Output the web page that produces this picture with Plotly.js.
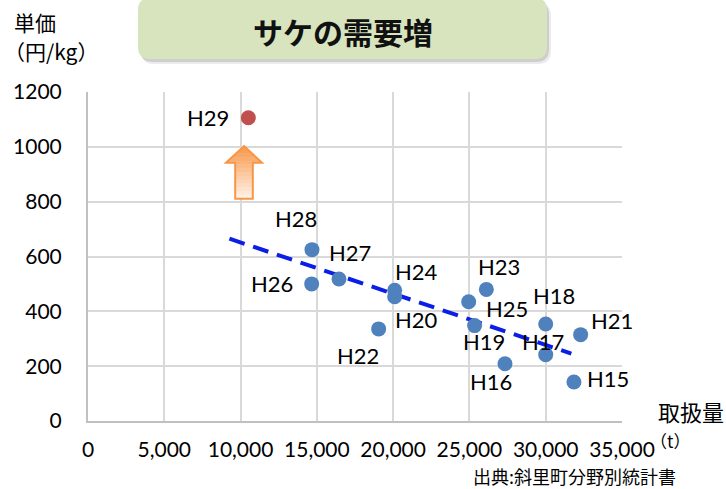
<!DOCTYPE html>
<html>
<head>
<meta charset="utf-8">
<script src="https://cdn.plot.ly/plotly-3.0.1.min.js"></script>
<style>html,body{margin:0;padding:0;background:#fff;}#chart{width:726px;height:489px;}</style>
</head>
<body>
<div id="chart"></div>
<script>
// ---- data ----
const years   = ['H15','H16','H17','H18','H19','H20','H21','H22','H23','H24','H25','H26','H27','H28'];
const volume  = [31850, 27330, 30000, 30000, 25340, 20100, 32290, 19050, 26110, 20100, 24950, 14660, 16450, 14680];
const price   = [142, 209, 242, 354, 348, 453, 315, 336, 480, 477, 435, 500, 518, 625];
const latestYear   = ['H29'];
const latestVolume = [10510];
const latestPrice  = [1106];
const trendX = [9270, 31680];
const trendY = [665, 246];
const xTicks = [0, 5000, 10000, 15000, 20000, 25000, 30000, 35000];
const yTicks = [0, 200, 400, 600, 800, 1000, 1200];

// ---- label offsets (styling, px) ----
const labelShift = {
  H15:[34,4], H16:[-14,-18], H17:[-3,13], H18:[8,28], H19:[9,-16], H20:[22,-23],
  H21:[31,14], H22:[-21,-27], H23:[13,23], H24:[22,19], H25:[38,-7], H26:[-40,0],
  H27:[11,26], H28:[-16,31], H29:[-40,0]
};

const W=726, H=489, L=88, R=104, T=92, B=68;
const PW=W-L-R, PH=H-T-B;
const px = p => (p-L)/PW;
const py = p => (H-B-p)/PH;

const LAB = 'Lato, "Open Sans", "Noto Sans CJK JP", sans-serif';
const JP  = '"Noto Sans CJK JP", "Noto Sans", sans-serif';

function rrect(x0,y0,x1,y1,r){
  const P=(x,y)=>px(x).toFixed(5)+','+py(y).toFixed(5);
  return 'M'+P(x0+r,y0)+' L'+P(x1-r,y0)+' Q'+P(x1,y0)+' '+P(x1,y0+r)+
         ' L'+P(x1,y1-r)+' Q'+P(x1,y1)+' '+P(x1-r,y1)+
         ' L'+P(x0+r,y1)+' Q'+P(x0,y1)+' '+P(x0,y1-r)+
         ' L'+P(x0,y0+r)+' Q'+P(x0,y0)+' '+P(x0+r,y0)+' Z';
}
function poly(pts){
  return 'M'+pts.map(p=>px(p[0]).toFixed(5)+','+py(p[1]).toFixed(5)).join(' L')+' Z';
}

const shapes = [];
// title box shadow + box
shapes.push({type:'path', xref:'paper', yref:'paper', path:rrect(141,3,551,64,13), fillcolor:'rgba(0,0,0,0.08)', line:{width:0}, layer:'above'});
shapes.push({type:'path', xref:'paper', yref:'paper', path:rrect(140,2,549,62,13), fillcolor:'rgba(0,0,0,0.12)', line:{width:0}, layer:'above'});
shapes.push({type:'path', xref:'paper', yref:'paper', path:rrect(138,-2,547,59,12), fillcolor:'#D7E4BD', line:{width:0}, layer:'above'});

// arrow with vertical gradient (decoration)
const ax=244, tipY=146, headY=162.7, baseY=198.7, headHW=18, shaftHW=8.8;
function halfW(y){ return y<headY ? headHW*(y-tipY)/(headY-tipY) : shaftHW; }
const N=14;
const c0=[248,150,70], c1=[255,243,233];
for(let i=0;i<N;i++){
  const ya=tipY+(baseY-tipY)*i/N, yb=tipY+(baseY-tipY)*(i+1)/N;
  const t=(i+0.5)/N;
  const col='rgb('+c0.map((v,k)=>Math.round(v+(c1[k]-v)*t)).join(',')+')';
  let pts=[];
  if(ya<headY && yb>headY){
    pts=[[ax-halfW(ya),ya],[ax+halfW(ya),ya],[ax+headHW,headY],[ax+shaftHW,headY],[ax+shaftHW,yb],[ax-shaftHW,yb],[ax-shaftHW,headY],[ax-headHW,headY]];
  } else {
    const wa=halfW(ya), wb=(yb<=headY)?halfW(yb):shaftHW;
    pts=[[ax-wa,ya],[ax+wa,ya],[ax+wb,yb],[ax-wb,yb]];
  }
  shapes.push({type:'path', xref:'paper', yref:'paper', path:poly(pts), fillcolor:col, line:{color:col,width:0.6}, layer:'above'});
}
shapes.push({type:'path', xref:'paper', yref:'paper',
  path:poly([[ax,tipY],[ax+headHW,headY],[ax+shaftHW,headY],[ax+shaftHW,baseY],[ax-shaftHW,baseY],[ax-shaftHW,headY],[ax-headHW,headY]]),
  fillcolor:'rgba(0,0,0,0)', line:{color:'#F79646',width:2}, layer:'above'});

const annotations = [];
years.forEach((yr,i)=>{
  annotations.push({x:volume[i], y:price[i], xref:'x', yref:'y', text:yr, showarrow:false,
    xshift:labelShift[yr][0], yshift:labelShift[yr][1], font:{family:LAB,size:22,color:'#000'}});
});
latestYear.forEach((yr,i)=>{
  annotations.push({x:latestVolume[i], y:latestPrice[i], xref:'x', yref:'y', text:yr, showarrow:false,
    xshift:labelShift[yr][0], yshift:labelShift[yr][1], font:{family:LAB,size:22,color:'#000'}});
});
// title
annotations.push({xref:'paper', yref:'paper', x:px(342.5), y:py(31), text:'<b>サケの需要増</b>', showarrow:false,
  xanchor:'center', yanchor:'middle', font:{family:JP,size:30,color:'#111'}});
// y axis title
annotations.push({xref:'paper', yref:'paper', x:px(12), y:py(22), text:'単価', showarrow:false,
  xanchor:'left', yanchor:'middle', font:{family:JP,size:21,color:'#000'}});
annotations.push({xref:'paper', yref:'paper', x:px(2), y:py(51), text:'（円/kg）', showarrow:false,
  xanchor:'left', yanchor:'middle', font:{family:JP,size:21,color:'#000'}});
// x axis title
annotations.push({xref:'paper', yref:'paper', x:px(691), y:py(411), text:'取扱量', showarrow:false,
  xanchor:'center', yanchor:'middle', font:{family:JP,size:22,color:'#000'}});
annotations.push({xref:'paper', yref:'paper', x:px(670), y:py(441), text:'（t）', showarrow:false,
  xanchor:'center', yanchor:'middle', font:{family:JP,size:17,color:'#000'}});
// source
annotations.push({xref:'paper', yref:'paper', x:px(678), y:py(476), text:'出典:斜里町分野別統計書', showarrow:false,
  xanchor:'right', yanchor:'middle', font:{family:JP,size:18,color:'#000'}});

const traces = [
  {x:trendX, y:trendY, type:'scatter', mode:'lines', line:{color:'#0A1EE6', width:4, dash:'16px,9px'}, hoverinfo:'skip', showlegend:false},
  {x:volume, y:price, type:'scatter', mode:'markers', marker:{size:15, color:'#4F81BD'}, showlegend:false},
  {x:latestVolume, y:latestPrice, type:'scatter', mode:'markers', marker:{size:15, color:'#C0504D'}, showlegend:false}
];

const layout = {
  width:W, height:H,
  margin:{l:L, r:R, t:T, b:B, pad:0},
  paper_bgcolor:'#fff', plot_bgcolor:'#fff',
  showlegend:false,
  xaxis:{range:[0,35000], tickvals:xTicks, tickformat:',', showgrid:true, gridcolor:'#D9D9D9', gridwidth:2,
    zeroline:false, showline:true, linecolor:'#C0C0C0', linewidth:2,
    ticks:'outside', ticklen:9, tickcolor:'rgba(0,0,0,0)',
    tickfont:{family:LAB,size:21,color:'#000'}, fixedrange:true},
  yaxis:{range:[0,1200], tickvals:yTicks, showgrid:true, gridcolor:'#D9D9D9', gridwidth:2,
    zeroline:false, showline:true, linecolor:'#C0C0C0', linewidth:2,
    ticks:'outside', ticklen:20, tickcolor:'rgba(0,0,0,0)',
    tickfont:{family:LAB,size:21,color:'#000'}, fixedrange:true},
  shapes:shapes,
  annotations:annotations
};

Plotly.newPlot('chart', traces, layout, {displayModeBar:false, staticPlot:true});
</script>
</body>
</html>
